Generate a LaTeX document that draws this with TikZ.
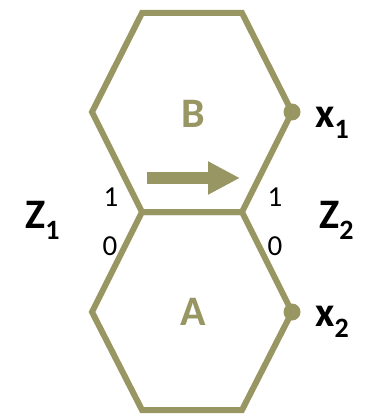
\documentclass[tikz,border=0pt]{standalone}
\usepackage{fontspec}
\setmainfont{Carlito}
\usetikzlibrary{arrows.meta}
\definecolor{olivec}{RGB}{152,150,98}
\newcommand\subdig[1]{\raisebox{-11pt}{\fontsize{28}{28}\selectfont #1}}
\begin{document}
\begin{tikzpicture}[x=1pt,y=-1pt,
  hex/.style={draw=olivec,line width=6pt,line join=miter},
  big/.style={font=\fontsize{42}{42}\selectfont\bfseries,inner sep=0pt},
  bit/.style={font=\fontsize{29}{29}\selectfont,inner sep=0pt},
  dotv/.style={fill=olivec}]
\useasboundingbox (0,0) rectangle (365,414);
% hexagon B
\coordinate (b1) at (142,13);
\coordinate (b2) at (242,13);
\coordinate (b3) at (292,112);
\coordinate (m2) at (242,212);
\coordinate (m1) at (142,212);
\coordinate (b6) at (92,112);
% hexagon A
\coordinate (a3) at (292,312);
\coordinate (a4) at (242,410);
\coordinate (a5) at (142,410);
\coordinate (a6) at (92,312);
\draw[hex] (b1) -- (b2) -- (b3) -- (m2) -- (m1) -- (b6) -- cycle;
\draw[hex] (m1) -- (m2) -- (a3) -- (a4) -- (a5) -- (a6) -- cycle;
\fill[dotv] (b3) circle (8.5);
\fill[dotv] (a3) circle (8.5);
% arrow
\coordinate (ar1) at (147,178);
\coordinate (ar2) at (240,178);
\draw[olivec,line width=12pt,-{Triangle[length=32pt,width=31pt]}] (ar1) -- (ar2);
% hexagon labels
\node[big,text=olivec] (B) at (193,114) {B};
\node[big,text=olivec] (A) at (193,312) {A};
% bits
\node[bit] (l1) at (111,197) {1};
\node[bit] (r1) at (275,197) {1};
\node[bit] (l0) at (110,246) {0};
\node[bit] (r0) at (275,246) {0};
% side labels
\node[big,anchor=base west] (z1) at (25,228) {Z\subdig{1}};
\node[big,anchor=base west] (z2) at (319,228) {Z\subdig{2}};
\node[big,anchor=base west] (x1) at (315,128) {x\subdig{1}};
\node[big,anchor=base west] (x2) at (315,326) {x\subdig{2}};
\end{tikzpicture}
\end{document}
